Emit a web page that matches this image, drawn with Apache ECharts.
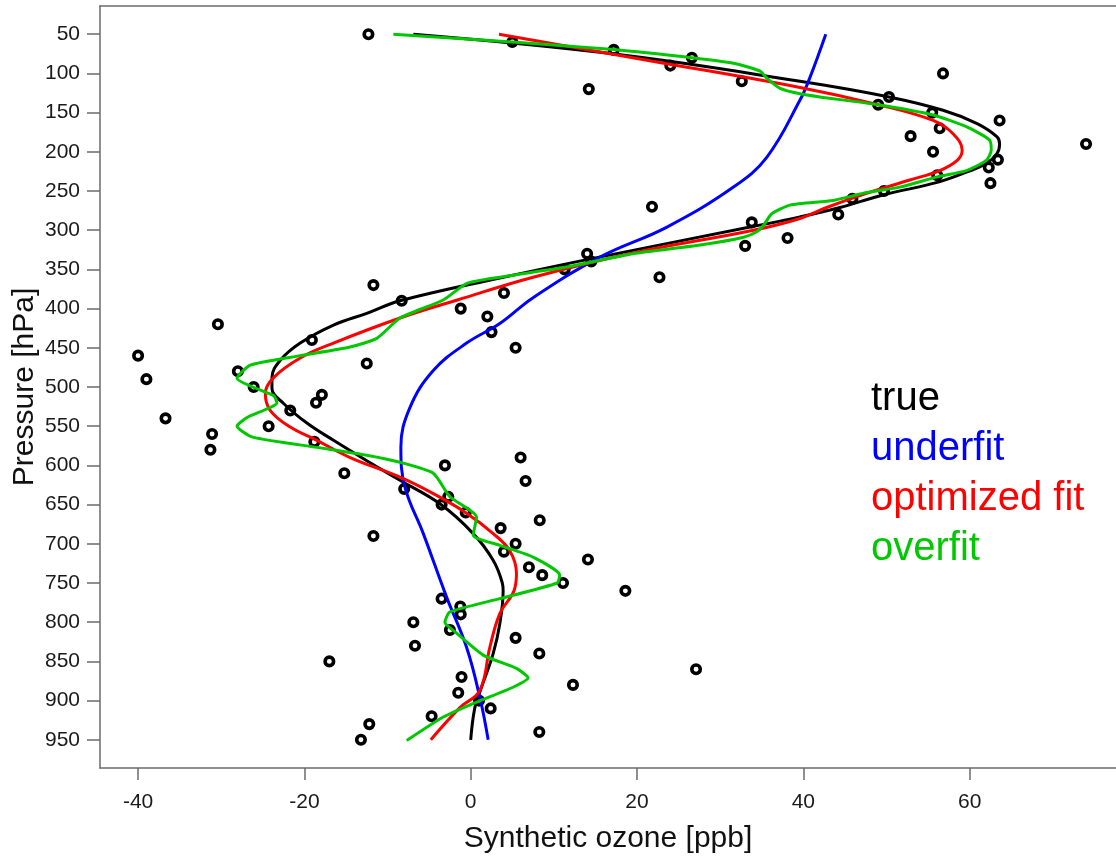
<!DOCTYPE html>
<html>
<head>
<meta charset="utf-8">
<script src="https://cdn.jsdelivr.net/npm/echarts@6/dist/echarts.min.js"></script>
<style>
html,body{margin:0;padding:0;background:#fff;}
#chart{width:1116px;height:856px;}
</style>
</head>
<body>
<div id="chart"></div>
<script>
// ---- data ----
const xTicks = [-40, -20, 0, 20, 40, 60];
const yTicks = [50,100,150,200,250,300,350,400,450,500,550,600,650,700,750,800,850,900,950];

const obsPressure = [50,60,70,80,90,100,110,120,130,140,150,160,170,180,190,200,210,220,230,240,250,260,270,280,290,310,320,330,340,350,360,370,380,390,400,410,420,430,440,450,460,470,480,490,500,510,520,530,540,550,560,570,580,590,600,610,620,630,640,650,660,670,680,690,700,710,720,730,740,750,760,770,780,790,800,810,820,830,840,850,860,870,880,890,900,910,920,930,940,950];
const obsOzone = [-12.3,5.0,17.2,26.6,24.0,56.8,32.6,14.2,50.3,49.0,55.5,63.6,56.4,52.9,74.0,55.6,63.4,62.3,56.1,62.5,49.7,45.9,21.8,44.2,33.8,38.1,33.0,14.0,14.5,11.3,22.7,-11.7,4.0,-8.3,-1.2,2.0,-30.4,2.5,-19.1,5.4,-40.0,-12.5,-28.0,-39.0,-26.1,-17.9,-18.6,-21.7,-36.7,-24.3,-31.1,-18.8,-31.3,6.0,-3.1,-15.2,6.6,-8.0,-2.7,-3.5,-0.6,8.3,3.6,-11.7,5.4,4.0,14.1,7.0,8.6,11.1,18.6,-3.5,-1.25,-1.2,-6.9,-2.5,5.4,-6.7,8.25,-17.0,27.1,-1.1,12.3,-1.5,1.0,2.4,-4.7,-12.2,8.25,-13.2];

const truePressure = [50,75,110,130,147,164,181,190,202,215,226,239,255,271,283,296,334,361,390,406,421,444,466,488,502,521,546,568,594,619,649,687,721,750,760,802,840,883,909,950];
const trueOzone    = [-6.9,17.1,39.6,50.3,56.8,60.9,63.3,63.6,63.3,62.0,59.6,56.1,49.6,44.4,39.6,33.6,15.6,3.5,-8.5,-12.5,-16.5,-20.5,-22.9,-23.9,-23.9,-22.5,-19.7,-16.5,-12.5,-8.5,-3.7,0.3,2.7,3.8,3.9,3.5,2.7,1.3,0.5,0.0];

const underPressure = [50,105,134,207,245,296,334,386,419,444,479,526,577,628,687,768,832,896,950];
const underOzone    = [42.7,40.8,39.6,35.6,31.6,23.6,15.6,7.5,3.5,-0.5,-4.5,-7.3,-8.4,-7.9,-5.7,-2.9,-0.5,1.1,2.1];

const optPressure = [50,85,118,140,160,177,198,211,224,236,253,271,285,300,329,360,389,412,444,463,488,508,530,551,568,590,615,636,661,687,709,738,760,789,832,887,909,950];
const optOzone    = [3.4,22.2,39.6,49.0,55.6,58.0,59.1,58.5,56.4,52.8,47.6,42.8,39.6,34.0,19.5,7.5,-1.6,-8.5,-16.5,-20.5,-23.7,-24.7,-24.1,-21.7,-18.5,-14.5,-8.5,-4.5,-0.5,2.7,4.7,5.5,5.2,3.5,2.3,1.1,-1.3,-4.8];

const overPressure = [50,56,60,69.5,80,87,97,106,119,126,130,140,153,168,185,198,211,224,232,245,252,262,268,279,294,302,309,319,330,347,360,368,389,412,438,449,460,472,489,500,511,520,539,550,564,577,587,596,610,640,666,689,702,717,740,750,770,787,800,814,842,859,871,883,902,921,951];
const overOzone    = [-9.3,-0.5,5.0,17.2,26.6,31.6,34.8,35.6,37.2,39.6,42.0,49.0,55.6,59.6,62.4,62.6,62.0,59.6,56.1,51.6,47.6,43.6,38.4,36.2,35.2,34.4,32.8,27.6,19.5,11.5,3.5,-0.5,-3.3,-8.5,-11.3,-14.5,-20.5,-26.5,-28.1,-26.2,-23.7,-23.3,-26.9,-28.1,-26.2,-18.5,-12.5,-8.5,-4.5,-2.5,0.7,0.3,3.5,7.5,10.7,10.4,3.5,-2.5,-3.1,-1.7,1.5,5.5,6.9,5.1,0.7,-3.3,-7.7];

// ---- build ----
function pairs(xs, ps){ return xs.map((x,i)=>[x, ps[i]]); }
const FONT = '"Liberation Sans", Arial, Helvetica, sans-serif';
const AXIS_COLOR = '#6b6b6b';
const X_MIN = -44.58, X_MAX = 77.6;

const chart = echarts.init(document.getElementById('chart'), null, {renderer:'canvas'});
const lineSeries = (name, color, xs, ps, smooth) => ({
  name, type:'line', data: pairs(xs, ps), showSymbol:false, symbol:'none',
  smooth, lineStyle:{color, width:3}, itemStyle:{color}, z:3, animation:false
});

chart.setOption({
  animation:false,
  backgroundColor:'#ffffff',
  grid:{left:100, top:6, right:0, bottom:88, show:false, containLabel:false, outerBoundsMode:'none'},
  xAxis:[{
    type:'value', min:X_MIN, max:X_MAX,
    name:'Synthetic ozone [ppb]', nameLocation:'middle', nameGap:56, nameMoveOverlap:false,
    nameTextStyle:{fontSize:30, color:'#111', fontFamily:FONT},
    axisLine:{show:true, onZero:false, lineStyle:{color:AXIS_COLOR, width:1.5}},
    axisTick:{show:true, length:12, customValues:xTicks, lineStyle:{color:AXIS_COLOR, width:1.5}},
    axisLabel:{customValues:xTicks, fontSize:21, color:'#1a1a1a', fontFamily:FONT, margin:24},
    splitLine:{show:false}
  },{
    type:'value', position:'top', min:X_MIN, max:X_MAX,
    axisLine:{show:true, onZero:false, lineStyle:{color:AXIS_COLOR, width:1.5}},
    axisTick:{show:false}, axisLabel:{show:false}, splitLine:{show:false}
  }],
  yAxis:{
    type:'value', inverse:true, min:14, max:986,
    name:'Pressure [hPa]', nameLocation:'middle', nameGap:60, nameMoveOverlap:false,
    nameTextStyle:{fontSize:30, color:'#111', fontFamily:FONT},
    axisLine:{show:true, onZero:false, lineStyle:{color:AXIS_COLOR, width:1.5}},
    axisTick:{show:true, length:13, customValues:yTicks, lineStyle:{color:AXIS_COLOR, width:1.5}},
    axisLabel:{customValues:yTicks, fontSize:21, color:'#1a1a1a', fontFamily:FONT, margin:20},
    splitLine:{show:false}
  },
  legend:{
    orient:'vertical', left:865, top:374, padding:0, itemGap:0,
    itemWidth:0, itemHeight:0, selectedMode:false,
    itemStyle:{opacity:0}, lineStyle:{opacity:0},
    textStyle:{fontSize:40, lineHeight:50, fontFamily:FONT},
    data:[
      {name:'true', textStyle:{color:'#000000'}},
      {name:'underfit', textStyle:{color:'#0000ff'}},
      {name:'optimized fit', textStyle:{color:'#ff0000'}},
      {name:'overfit', textStyle:{color:'#00c800'}}
    ]
  },
  series:[
    {name:'observations', type:'scatter', data: pairs(obsOzone, obsPressure),
     symbol:'circle', symbolSize:8.5, z:2,
     itemStyle:{color:'rgba(0,0,0,0)', borderColor:'#000', borderWidth:3.6, opacity:1}},
    lineSeries('true', '#000000', trueOzone, truePressure, 0.4),
    lineSeries('underfit', '#0000ff', underOzone, underPressure, 0.4),
    lineSeries('optimized fit', '#ff0000', optOzone, optPressure, 0.4),
    lineSeries('overfit', '#00c800', overOzone, overPressure, 0.2)
  ]
});
</script>
</body>
</html>
